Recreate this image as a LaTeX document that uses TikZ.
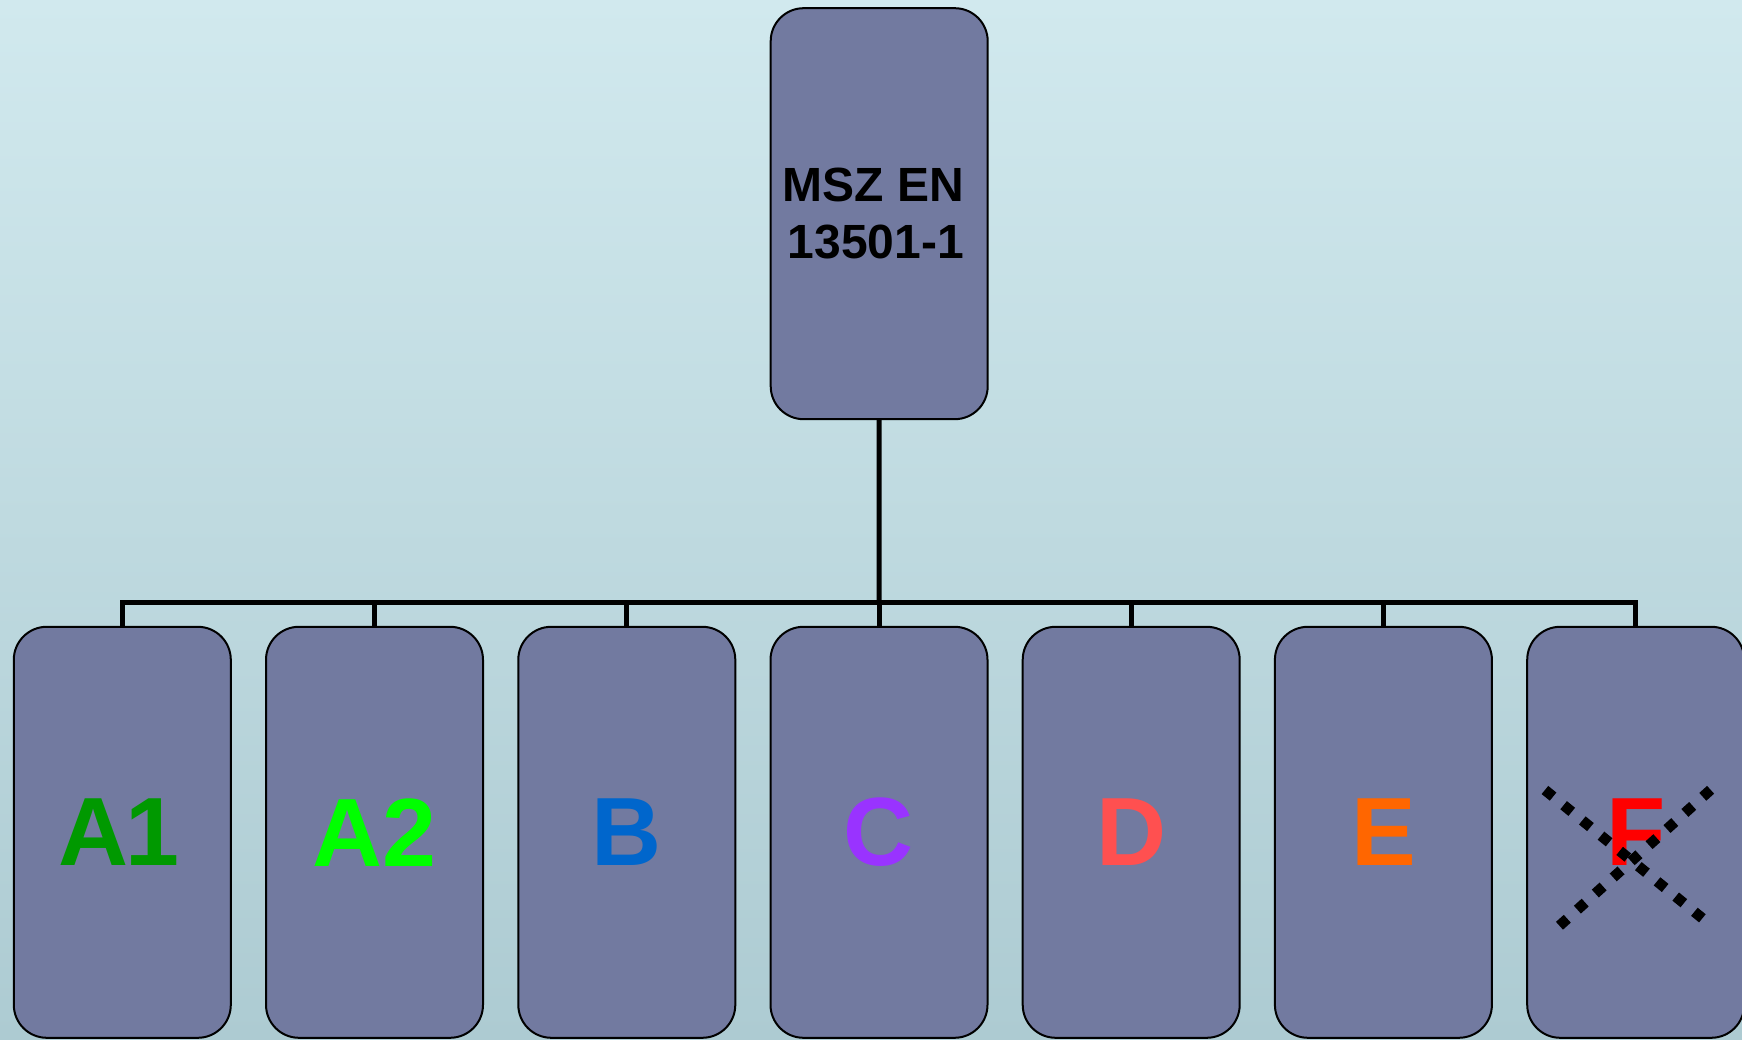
\documentclass[tikz,border=0pt]{standalone}
\usepackage{fontspec}
\setmainfont{Liberation Sans}
\usetikzlibrary{calc}
\begin{document}
\begin{tikzpicture}[x=1pt,y=1pt,
  box/.style={draw=black,line width=2pt,fill=boxfill,rectangle,rounded corners=33pt,
    minimum width=217pt,minimum height=411pt,inner sep=0pt,align=center},
  conn/.style={draw=black,line width=5pt,line join=miter},
  letter/.style={font=\fontsize{97}{110}\selectfont\bfseries},
  cross/.style={draw=black,line width=10.5pt,dash pattern=on 10.5pt off 13.6pt,
    shorten <=-5.25pt,shorten >=-5.25pt}]
\definecolor{boxfill}{RGB}{114,122,160}
\definecolor{bgtop}{RGB}{209,233,238}
\definecolor{bgbot}{RGB}{173,203,210}
\definecolor{cA1}{RGB}{0,153,0}
\definecolor{cA2}{RGB}{0,255,0}
\definecolor{cB}{RGB}{0,102,204}
\definecolor{cC}{RGB}{153,51,255}
\definecolor{cD}{RGB}{255,80,80}
\definecolor{cE}{RGB}{255,102,0}
\definecolor{cF}{RGB}{255,0,0}
\useasboundingbox (0,0) rectangle (1742,1039);
\shade[top color=bgtop,bottom color=bgbot] (0,0) rectangle (1742,1039);
\node[box,align=right,font=\fontsize{48}{57}\selectfont\bfseries] (top) at (879.2,825.3) {MSZ EN\hspace*{12pt}\\13501-1\hspace*{12pt}};
\node[box,text=cA1,letter] (a1) at (122.3,206.7) {A\kern-3pt 1\hspace*{6pt}};
\node[box,text=cA2,letter] (a2) at (374.5,206.7) {A2};
\node[box,text=cB,letter] (b) at (626.8,206.7) {B};
\node[box,text=cC,letter] (c) at (879.0,206.7) {C};
\node[box,text=cD,letter] (d) at (1131.2,206.7) {D};
\node[box,text=cE,letter] (e) at (1383.4,206.7) {E};
\node[box,text=cF,letter] (f) at (1635.7,206.7) {F};
\coordinate (bus) at (879,436);
\draw[conn] (top.south) -- (bus);
\draw[conn] (a1.north) -- (a1.north |- bus) -- (f.north |- bus) -- (f.north);
\foreach \n in {a2,b,c,d,e} {\draw[conn] (\n.north) -- (\n.north |- bus);}
\coordinate (x1s) at ($(f.center)+(-86.7,39)$);
\coordinate (x1e) at ($(f.center)+(62.6,-82.7)$);
\coordinate (x2s) at ($(f.center)+(71,39)$);
\coordinate (x2e) at ($(f.center)+(-72.4,-90)$);
\draw[cross] (x1s) -- (x1e);
\draw[cross] (x2s) -- (x2e);
\end{tikzpicture}
\end{document}
